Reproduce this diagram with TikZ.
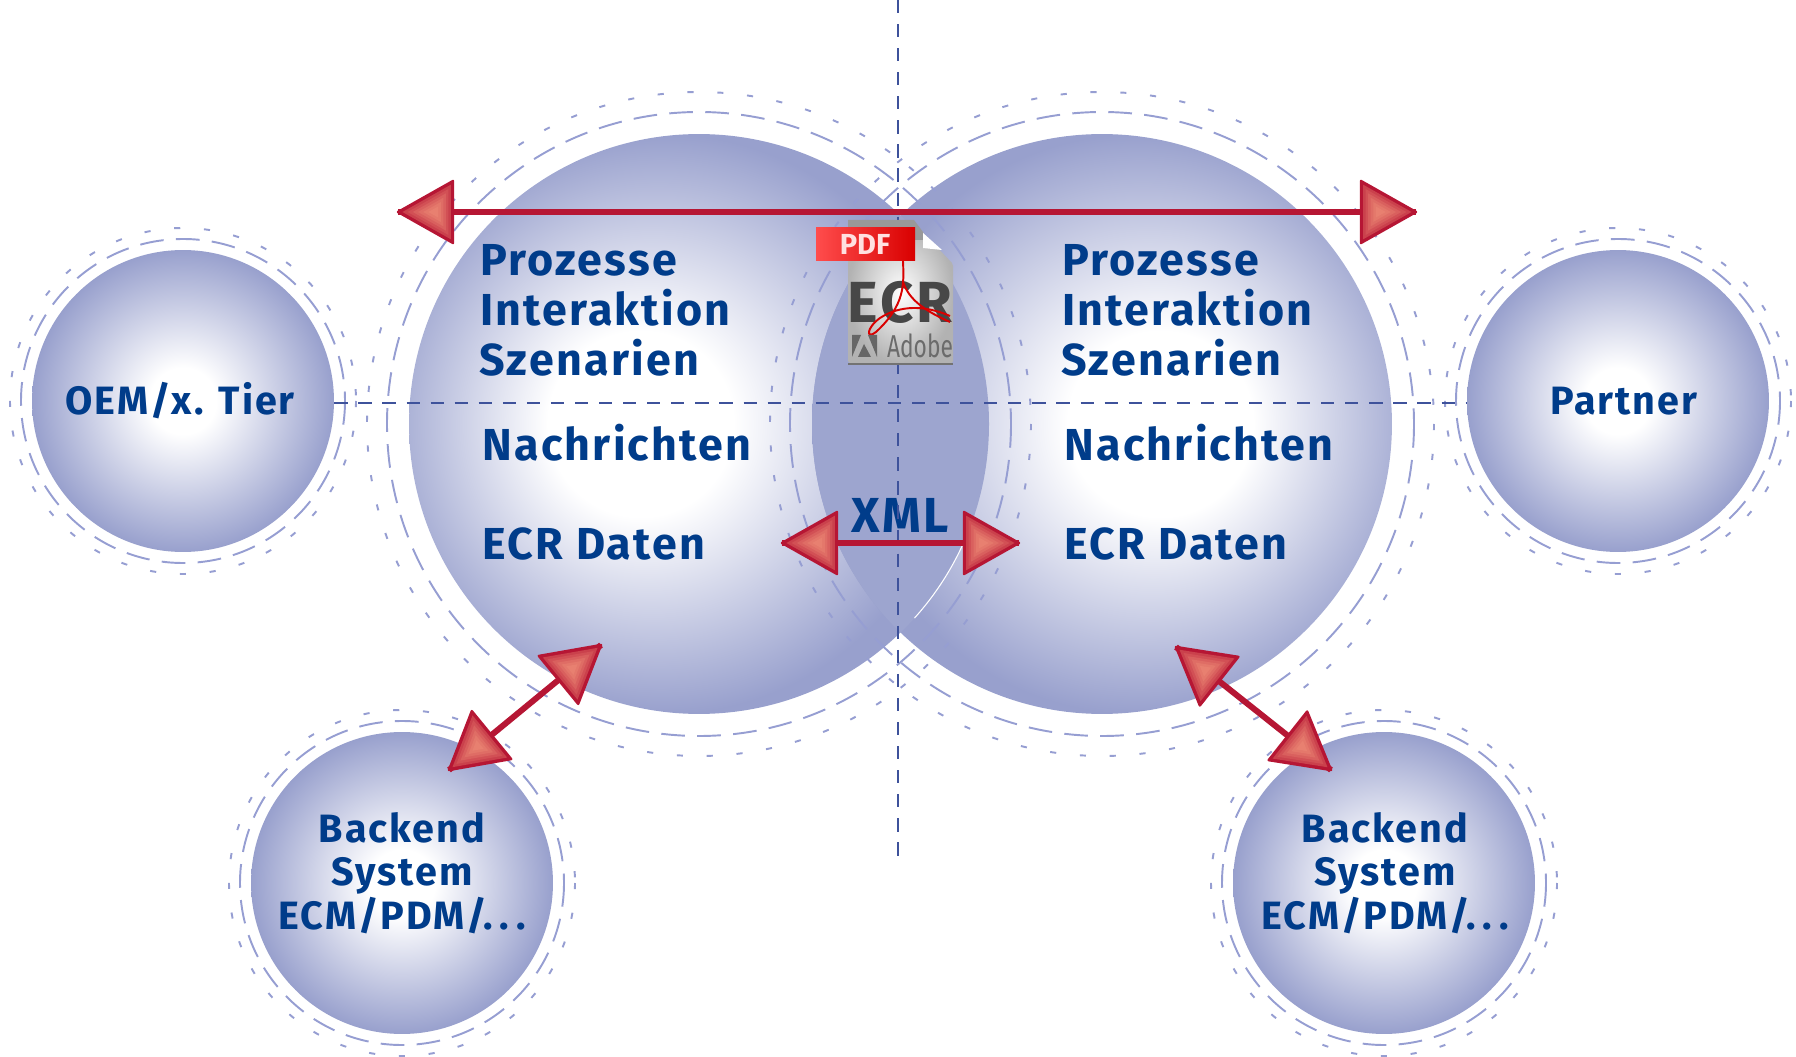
\documentclass[tikz,border=0pt]{standalone}
\usepackage{fontspec}
\setmainfont{Fira Sans}
\newfontfamily\labelfont[LetterSpace=5]{Fira Sans}
\definecolor{ballblue}{RGB}{152,160,205}
\definecolor{lensblue}{RGB}{157,165,207}
\definecolor{ringblue}{RGB}{150,158,210}
\definecolor{axisblue}{RGB}{62,82,155}
\definecolor{textblue}{RGB}{0,60,138}
\definecolor{arrowred}{RGB}{182,22,52}
\definecolor{arrowpink}{RGB}{232,128,112}
\pgfdeclareradialshading{ballmid}{\pgfpoint{0bp}{0bp}}{color(0bp)=(white); color(5.5bp)=(white); color(25bp)=(ballblue); color(50bp)=(ballblue)}
\pgfdeclareradialshading{ballleft}{\pgfpoint{-6bp}{0bp}}{color(0bp)=(white); color(8bp)=(white); color(25bp)=(ballblue); color(50bp)=(ballblue)}
\pgfdeclareradialshading{ballright}{\pgfpoint{6bp}{0bp}}{color(0bp)=(white); color(8bp)=(white); color(25bp)=(ballblue); color(50bp)=(ballblue)}
\tikzset{
  smallball/.style={circle,inner sep=0pt,minimum size=6.04cm,shading=ballmid},
  bigball/.style={circle,inner sep=0pt,minimum size=11.6cm},
  balllabel/.style={inner sep=0pt,align=center,text=textblue,font=\labelfont\fontsize{22.5}{24.6}\selectfont\bfseries},
  biglabel/.style={anchor=base west,inner sep=0pt,text=textblue,align=left,font=\labelfont\fontsize{25.5}{28}\selectfont\bfseries},
  longring/.style={draw=ringblue,line width=1.1pt,dash pattern=on 13.5pt off 7pt},
  shortring/.style={draw=ringblue,line width=1.1pt,dash pattern=on 3.5pt off 13.5pt},
  axisline/.style={draw=axisblue,line width=1.5pt,dash pattern=on 7.5pt off 6.2pt},
  redline/.style={draw=arrowred,line width=3.4pt},
  redhead/.pic={
    \fill[arrowred,draw=arrowred,line width=1.4pt,line join=round] (0,0)-- (-55,31)-- (-55,-31)-- cycle;
    \foreach \s/\m in {.88/40,.74/55,.60/70,.46/82,.32/92,.18/100}
      \fill[arrowpink!\m!arrowred,shift={(-37,0)},scale=\s] (37,0)-- (-18,31)-- (-18,-31)-- cycle;
  }
}
\begin{document}
\begin{tikzpicture}[line cap=butt,x=0.02cm,y=-0.02cm]
\useasboundingbox (0,0) rectangle (1796,1057);
\node (bigL) [bigball,shading=ballleft] at (699,424) {};
\node (bigR) [bigball,shading=ballright] at (1102,424) {};
\begin{scope}
\clip (bigL) circle (290);
\fill[lensblue] (bigR) circle (290);
\end{scope}
\draw[white,line width=0.6pt] (bigL) ++(42:290) arc (42:22:290);
\foreach \ball in {bigL,bigR} {
  \draw[longring] (\ball) circle (312);
  \draw[shortring] (\ball) circle (332);
}
\coordinate (cross) at (898,403);
\coordinate (axisT) at (898,0);
\coordinate (axisB) at (898,857);
\node (oem) [smallball] at (183,401) {};
\node (partner) [smallball] at (1618,401) {};
\node (backL) [smallball] at (402,883) {};
\node (backR) [smallball] at (1384,883) {};
\foreach \ball in {oem,partner,backL,backR} {
  \draw[longring] (\ball) circle (162);
  \draw[shortring] (\ball) circle (173);
}
\node (oemtext) [balllabel] at (180,401) {OEM/x. Tier};
\node (partnertext) [balllabel] at (1624,401) {Partner};
\node (backLtext) [balllabel] at (402,873) {Backend\\System\\ECM/PDM/.\,.\,.};
\node (backRtext) [balllabel] at (1385,873) {Backend\\System\\ECM/PDM/.\,.\,.};
\node (xml) [text=textblue,font=\labelfont\fontsize{28}{30}\selectfont\bfseries] at (900,515) {XML};
\draw[axisline] (axisT) -- (axisB);
\draw[axisline] (oem.east |- cross) -- (partner.west |- cross);
\node (textL) [biglabel] at (480,276) {Prozesse};
\node (textLb) [biglabel] at (480,326) {Interaktion};
\node (textLc) [biglabel] at (479,376) {Szenarien};
\node (newsL) [biglabel] at (482,461) {Nachrichten};
\node (dataL) [biglabel] at (482,560) {ECR Daten};
\node (textR) [biglabel] at (1062,276) {Prozesse};
\node (textRb) [biglabel] at (1062,326) {Interaktion};
\node (textRc) [biglabel] at (1061,376) {Szenarien};
\node (newsR) [biglabel] at (1064,461) {Nachrichten};
\node (dataR) [biglabel] at (1064,560) {ECR Daten};
\shade[inner color=white,outer color=black!30,rounded corners=1pt] (848,222)-- (913,222)-- (953,264)-- (953,363)-- (848,363)-- cycle;
\fill[black!40] (848,220)-- (914,220)-- (923,232)-- (923,240)-- (848,240)-- cycle;
\fill[white] (923,233)-- (942,250)-- (923,248)-- cycle;
\draw[black!55,line width=1pt] (848,364)-- (953,364);
\node (ecr) [inner sep=0pt,text=black!72,font=\labelfont\fontsize{33}{35}\selectfont\bfseries] at (900,302) {ECR};
\draw[red!85!black,line width=1.1pt] (903,261) .. controls (904,285) and (905,305) .. (876,332) .. controls (866,340) and (866,328) .. (880,318) .. controls (900,305) and (925,305) .. (950,316);
\draw[red!85!black,line width=1.1pt] (903,282) .. controls (908,296) and (918,308) .. (950,322);
\shade[left color=red!70!white,right color=red!85!black] (816,228) rectangle (915,261);
\node (pdf) [inner sep=0pt,text=white!88!red,font=\fontsize{16.5}{18}\selectfont\bfseries] at (865,244) {PDF};
\fill[black!60] (852,335)-- (861,335)-- (852,357)-- cycle;
\fill[black!60] (868,335)-- (877,335)-- (877,357)-- cycle;
\fill[black!60] (864,344)-- (871,357)-- (858,357)-- cycle;
\node (adobe) [inner sep=0pt,text=black!58,font=\fontsize{18}{20}\selectfont] at (920,346) {\scalebox{0.72}[1]{Adobe}};
\coordinate (topL) at (398,212);
\coordinate (topR) at (1416,212);
\coordinate (midL) at (782,543);
\coordinate (midR) at (1019,543);
\coordinate (diagLa) at (601,645);
\coordinate (diagLb) at (449,770);
\coordinate (diagRa) at (1176,647);
\coordinate (diagRb) at (1331,770);
\draw[redline] (topL) -- (topR);
\draw[redline] (midL) -- (midR);
\draw[redline] (diagLa) -- (diagLb);
\draw[redline] (diagRa) -- (diagRb);
\pic[rotate=180] at (topL) {redhead};
\pic at (topR) {redhead};
\pic[rotate=180] at (midL) {redhead};
\pic at (midR) {redhead};
\pic[rotate=39.4] at (diagLa) {redhead};
\pic[rotate=219.4] at (diagLb) {redhead};
\pic[rotate=141.6] at (diagRa) {redhead};
\pic[rotate=-38.4] at (diagRb) {redhead};
\end{tikzpicture}
\end{document}
